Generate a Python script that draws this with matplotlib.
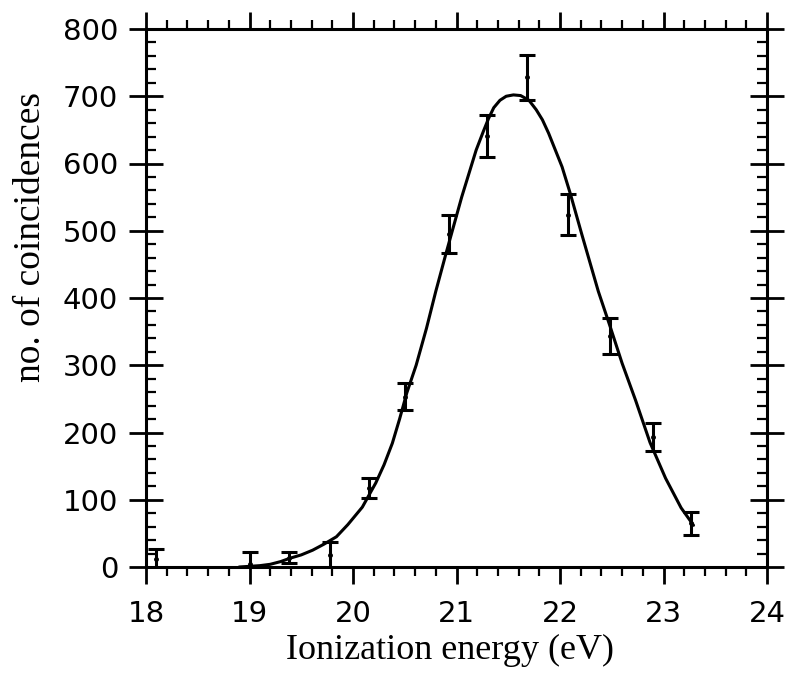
import matplotlib
matplotlib.use("Agg")
import matplotlib.pyplot as plt
from matplotlib.ticker import MultipleLocator

# measured points with error bars
pt_x = [18.1, 19.0, 19.38, 19.78, 20.15, 20.5, 20.93, 21.29, 21.68, 22.08, 22.48, 22.9, 23.27]
pt_y = [12, 5, 14, 18, 117, 253, 495, 641, 728, 524, 344, 193, 65]
pt_err = [15, 17, 8, 19, 15, 20, 28, 31, 34, 30, 27, 21, 17]

# fitted curve
fit_x = [18.9, 19.0, 19.1, 19.2, 19.3, 19.39, 19.5, 19.61, 19.72, 19.84, 19.95, 20.09,
         20.22, 20.30, 20.38, 20.45, 20.52, 20.61, 20.71, 20.80, 20.90, 21.05, 21.19,
         21.26, 21.31, 21.36, 21.42, 21.48, 21.55, 21.62, 21.70, 21.77, 21.83, 21.89,
         22.02, 22.10, 22.21, 22.37, 22.49, 22.60, 22.73, 22.87, 23.02, 23.17, 23.29]
fit_y = [0, 1, 2, 4, 8, 13, 18, 25, 34, 45, 63, 89,
         125, 152, 184, 220, 259, 300, 355, 410, 467, 550, 620,
         648, 667, 683, 694, 700, 702, 701, 694, 680, 665, 645,
         595, 555, 495, 410, 355, 303, 248, 185, 132, 88, 62]

x_ticks = [18, 19, 20, 21, 22, 23, 24]
y_ticks = [0, 100, 200, 300, 400, 500, 600, 700, 800]

fig = plt.figure(figsize=(7.89, 6.73), dpi=100)
ax = fig.add_axes([146/789, 1 - 567/673, 621/789, 538/673])

ax.plot(fit_x, fit_y, color="black", lw=2.2, solid_capstyle="round",
        solid_joinstyle="round", zorder=3)
ax.errorbar(pt_x, pt_y, yerr=pt_err, fmt="o", ms=2.5, color="black",
            ecolor="black", elinewidth=2.2, capsize=6, capthick=2.2, zorder=4)

ax.set_xlim(18, 24)
ax.set_ylim(0, 800)
ax.set_xticks(x_ticks)
ax.set_yticks(y_ticks)
ax.xaxis.set_minor_locator(MultipleLocator(0.2))
ax.yaxis.set_minor_locator(MultipleLocator(20))

for s in ax.spines.values():
    s.set_linewidth(2.2)

ax.tick_params(axis="x", which="both", direction="out", top=True, bottom=True,
               labeltop=False)
ax.tick_params(axis="x", which="major", length=12, width=2, pad=12,
               labelsize=21)
ax.tick_params(axis="x", which="minor", length=6.5, width=1.6)
ax.tick_params(axis="y", which="both", left=True, right=True, labelright=False)
ax.tick_params(axis="y", which="major", direction="inout", length=24, width=2,
               pad=8, labelsize=21)
ax.tick_params(axis="y", which="minor", direction="in", length=7, width=1.6)

for lab in ax.get_xticklabels() + ax.get_yticklabels():
    lab.set_fontfamily("DejaVu Sans")

ax.set_xlabel("Ionization energy (eV)", fontfamily="Liberation Serif", fontsize=26)
ax.set_ylabel("no. of coincidences", fontfamily="Liberation Serif", fontsize=27)
ax.xaxis.set_label_coords((450 - 146) / 621, (567 - 634) / 538)
ax.yaxis.set_label_coords((48 - 146) / 621, (567 - 237) / 538)

fig.savefig("out.png", dpi=100)
